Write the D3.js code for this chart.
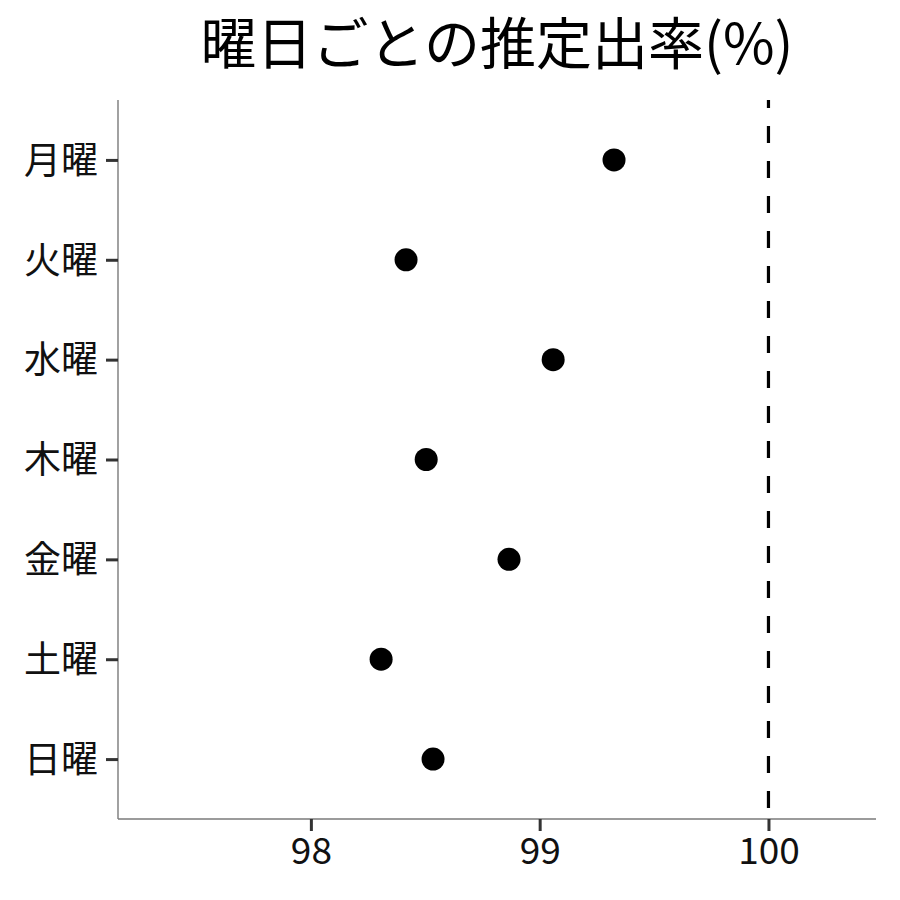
<!DOCTYPE html>
<html>
<head>
<meta charset="utf-8">
<script src="https://cdn.jsdelivr.net/npm/d3@7"></script>
<style>
  html, body { margin: 0; padding: 0; background: #fff; }
  svg text { font-family: "Noto Sans CJK JP", "Noto Sans", sans-serif; }
</style>
</head>
<body>
<svg id="chart" width="900" height="900"></svg>
<script>
// Data.
var days = ["月曜", "火曜", "水曜", "木曜", "金曜", "土曜", "日曜"];
var rates = [99.325, 98.416, 99.059, 98.504, 98.866, 98.307, 98.534];
var xTicks = [98, 99, 100];
var refValue = 100;
var title = "曜日ごとの推定出率(%)";

var my = {
  left: 118,
  right: 876,
  top: 100,
  bottom: 819,
  xDomain: [97.157, 100.47]
};

var svg = d3.select("#chart");

var x = d3.scaleLinear().domain(my.xDomain).range([my.left, my.right]);
var y = d3.scalePoint().domain(days).range([my.top, my.bottom]).padding(0.6);

// Title, centred on the panel.
svg.append("text")
  .attr("x", (my.left + my.right) / 2)
  .attr("y", 64)
  .attr("text-anchor", "middle")
  .attr("font-size", 56)
  .attr("fill", "#000")
  .text(title);

// Axes.
var xAxis = svg.append("g")
  .attr("transform", "translate(0," + my.bottom + ")")
  .call(d3.axisBottom(x).tickValues(xTicks).tickSize(12).tickPadding(7).tickFormat(d3.format("d")));
var yAxis = svg.append("g")
  .attr("transform", "translate(" + my.left + ",0)")
  .call(d3.axisLeft(y).tickSize(12).tickPadding(8));

[xAxis, yAxis].forEach(function(g){
  g.select(".domain").attr("stroke", "#7a7a7a").attr("stroke-width", 1.4);
  g.selectAll(".tick line").attr("stroke", "#333").attr("stroke-width", 3);
  g.selectAll(".tick text").attr("font-size", 37).attr("fill", "#111")
    .attr("font-family", '"Noto Sans CJK JP", sans-serif');
});
xAxis.select(".domain").attr("d", "M" + my.left + ",0H" + my.right);
yAxis.select(".domain").attr("d", "M0," + my.top + "V" + my.bottom);
yAxis.selectAll(".tick text").attr("dy", "0.36em");

// Reference line at 100%.
svg.append("line")
  .attr("x1", x(refValue)).attr("x2", x(refValue))
  .attr("y1", my.top).attr("y2", my.bottom)
  .attr("stroke", "#000")
  .attr("stroke-width", 3.2)
  .attr("stroke-dasharray", "17,18")
  .attr("stroke-dashoffset", 9);

// Points.
svg.append("g").selectAll("circle")
  .data(days)
  .join("circle")
  .attr("cx", function(d, i){ return x(rates[i]); })
  .attr("cy", function(d){ return y(d); })
  .attr("r", 11.5)
  .attr("fill", "#000");
</script>
</body>
</html>
